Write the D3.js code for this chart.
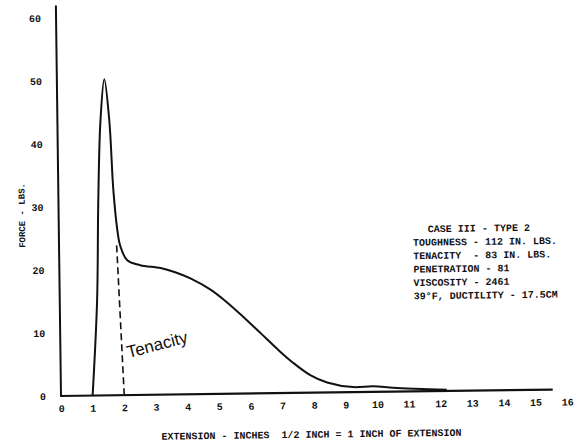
<!DOCTYPE html>
<html>
<head>
<meta charset="utf-8">
<script src="https://cdn.jsdelivr.net/npm/d3@7"></script>
<style>
  body { margin: 0; background: #fff; }
  svg { display: block; }
  text { fill: #111; font-family: "Liberation Mono", "DejaVu Sans Mono", monospace; font-weight: bold; }
  text.hand { font-family: "Liberation Sans", sans-serif; font-weight: normal; }
</style>
</head>
<body>
<svg width="585" height="444"></svg>
<script>
// force-extension trace
const extension = [1.0, 1.18, 1.26, 1.36, 1.5, 1.64, 1.74, 1.85, 1.93, 2.15, 2.56, 3.2, 3.66, 4.14, 4.76, 5.29, 5.79, 6.33, 6.86, 7.35, 7.89, 8.42, 9.24, 9.88, 10.5, 11.2, 12.2];
const force = [0, 15, 31, 43.5, 50.2, 43.7, 32.6, 26.2, 23.8, 21.4, 20.6, 20.1, 19.4, 18.4, 16.6, 14.5, 12.2, 9.6, 7.0, 4.8, 2.8, 1.6, 0.8, 0.9, 0.6, 0.4, 0.2];

// dashed tenacity cut-off
const tenacityX = [2, 1.82];
const tenacityY = [0, 24];

const xTicks = d3.range(0, 17);
const yTicks = [0, 10, 20, 30, 40, 50, 60];

const notes = [
  "TOUGHNESS - 112 IN. LBS.",
  "TENACITY  - 83 IN. LBS.",
  "PENETRATION - 81",
  "VISCOSITY - 2461",
  "39°F, DUCTILITY - 17.5CM"
];
const noteTitle = "CASE III - TYPE 2";

const svg = d3.select("svg");

const x = d3.scaleLinear().domain([0, 16]).range([61, 567]);
const y = d3.scaleLinear().domain([0, 60]).range([396, 18]);

// the scan is slightly skewed, so the whole sheet is turned a little
const g = svg.append("g")
  .attr("transform", "rotate(-0.75, 60, 396)");

// axis lines
g.append("line")
  .attr("x1", x(0)).attr("x2", x(0))
  .attr("y1", y(0)).attr("y2", y(62))
  .attr("stroke", "#111").attr("stroke-width", 2);

g.append("line")
  .attr("x1", x(0) - 1).attr("x2", x(15.55))
  .attr("y1", y(0)).attr("y2", y(0))
  .attr("stroke", "#111").attr("stroke-width", 2.2);

// tick labels, no tick marks
const xAxis = g.append("g")
  .attr("transform", `translate(0, ${y(0) + 6})`)
  .call(d3.axisBottom(x).tickValues(xTicks).tickSize(0).tickFormat(d3.format("d")));
xAxis.select(".domain").remove();
xAxis.selectAll("text")
  .attr("font-family", null).attr("font-size", 10);

const yAxis = g.append("g")
  .attr("transform", `translate(${x(0) - 12}, 0)`)
  .call(d3.axisLeft(y).tickValues(yTicks).tickSize(0).tickFormat(d3.format("d")));
yAxis.select(".domain").remove();
yAxis.selectAll("text")
  .attr("font-family", null).attr("font-size", 10);

// axis titles
g.append("text")
  .attr("transform", `translate(24, 215) rotate(-90)`)
  .attr("text-anchor", "middle")
  .attr("dy", "0.35em")
  .attr("font-size", 9)
  .text("FORCE - LBS.");

g.append("text")
  .attr("x", 311).attr("y", 441)
  .attr("text-anchor", "middle")
  .attr("font-size", 10)
  .style("white-space", "pre")
  .text("EXTENSION - INCHES  1/2 INCH = 1 INCH OF EXTENSION");

// curve
const pts = extension.map((v, i) => [v, force[i]]);
const line = d3.line()
  .x(d => x(d[0]))
  .y(d => y(d[1]))
  .curve(d3.curveCatmullRom.alpha(0.5));

g.append("path")
  .datum(pts)
  .attr("d", line)
  .attr("fill", "none")
  .attr("stroke", "#111")
  .attr("stroke-width", 2)
  .attr("stroke-linejoin", "round");

g.append("path")
  .datum(tenacityX.map((v, i) => [v, tenacityY[i]]))
  .attr("d", d3.line().x(d => x(d[0])).y(d => y(d[1])))
  .attr("fill", "none")
  .attr("stroke", "#111")
  .attr("stroke-width", 1.6)
  .attr("stroke-dasharray", "7,4");

// handwritten note
g.append("text")
  .attr("class", "hand")
  .attr("transform", "translate(129, 359) rotate(-14)")
  .attr("font-size", 17)
  .text("Tenacity");

// case description block
const block = g.append("g").attr("transform", "translate(415, 237)");
block.append("text")
  .attr("x", 66).attr("y", 0)
  .attr("text-anchor", "middle")
  .attr("font-size", 10)
  .text(noteTitle);
block.selectAll("text.note")
  .data(notes)
  .join("text")
  .attr("class", "note")
  .attr("x", 0)
  .attr("y", (d, i) => 13.4 * (i + 1))
  .attr("font-size", 10)
  .style("white-space", "pre")
  .text(d => d);
</script>
</body>
</html>
